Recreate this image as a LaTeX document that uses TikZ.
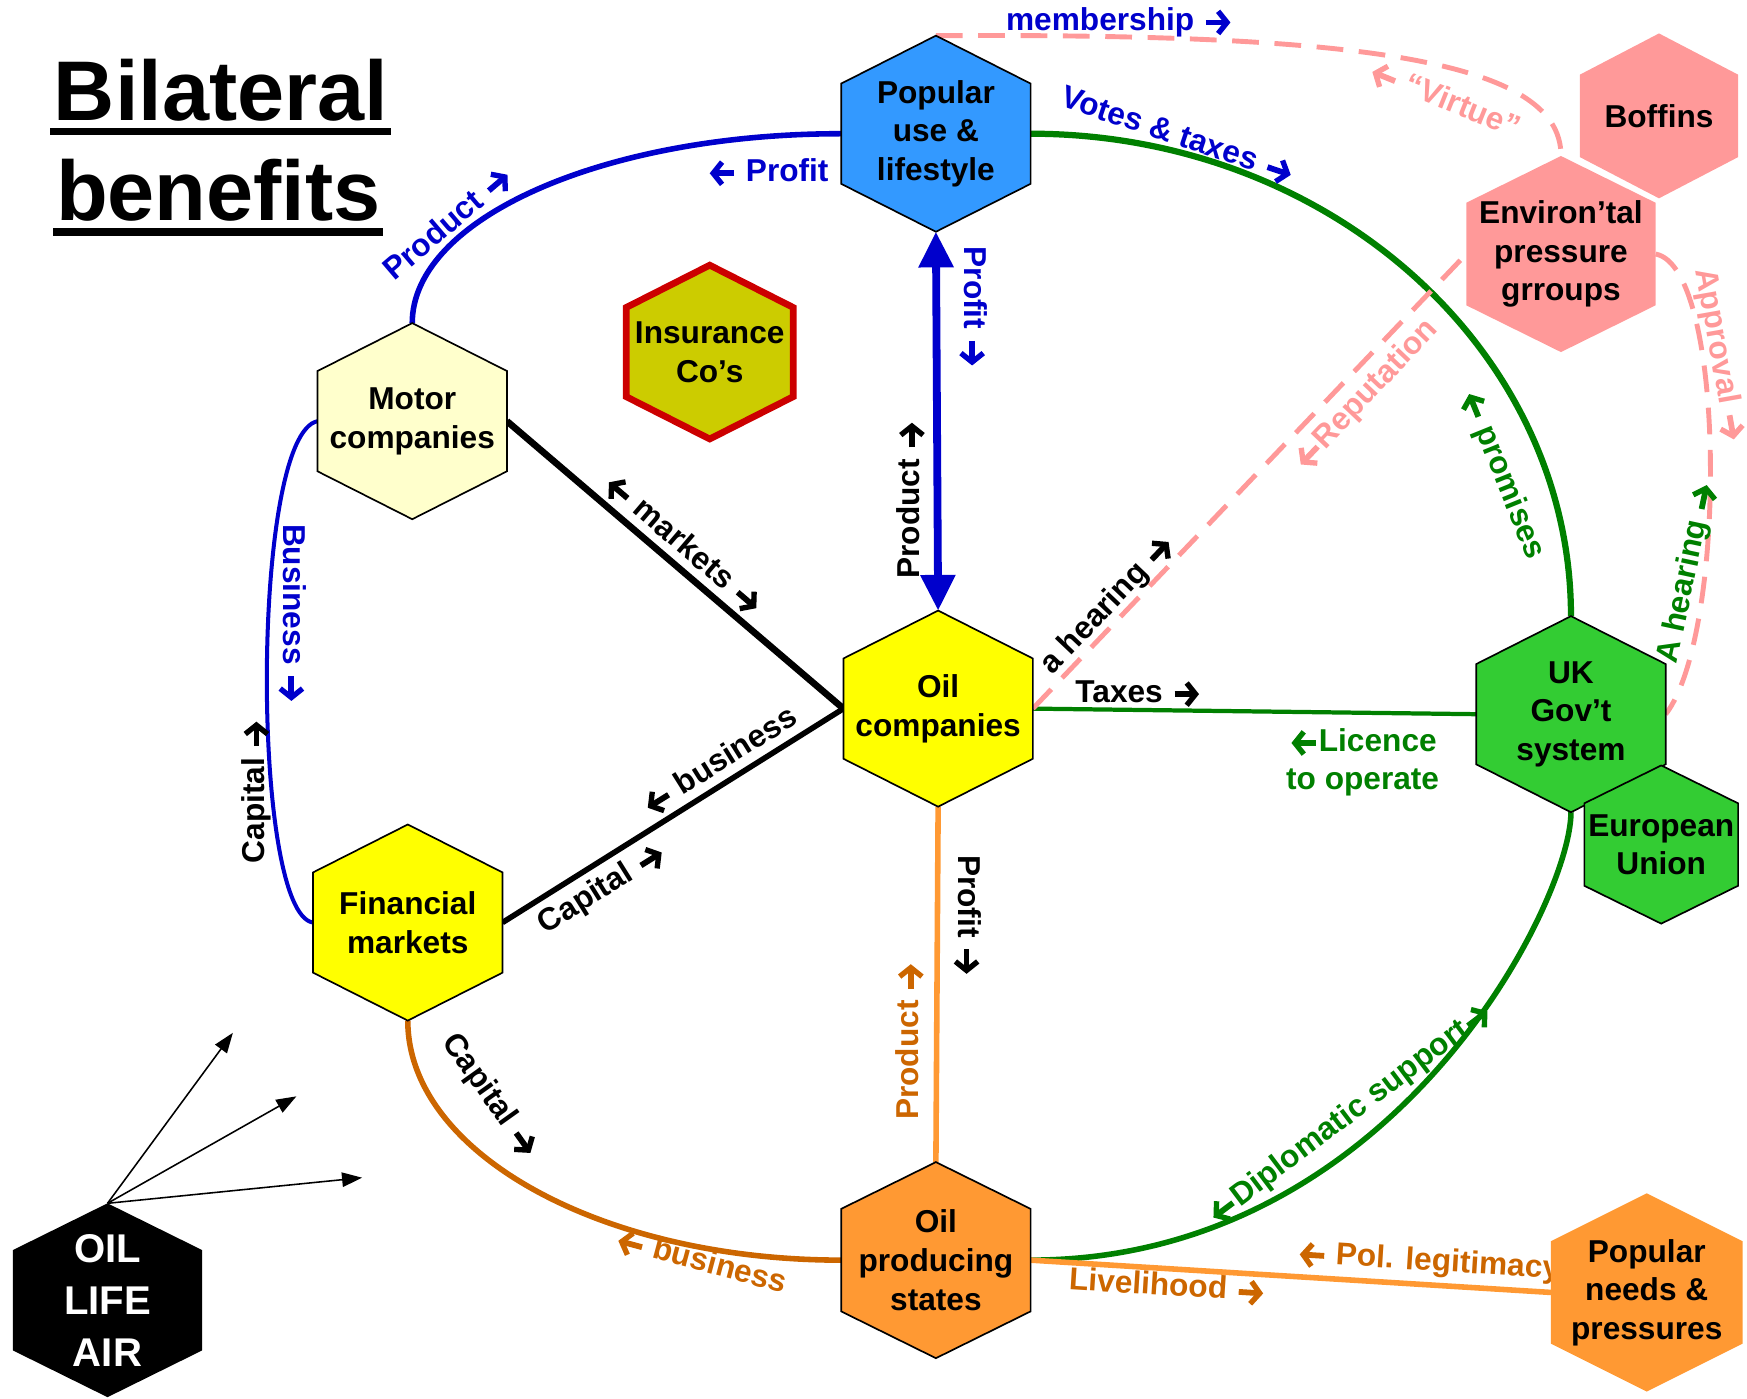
\documentclass[tikz,border=0pt]{standalone}
\usepackage{fontspec}
\setmainfont{Liberation Sans}
\usetikzlibrary{arrows.meta}
\pgfdeclarelayer{bg}
\pgfsetlayers{bg,main}
\definecolor{cblue}{HTML}{0000CC}
\definecolor{cpopfill}{HTML}{3399FF}
\definecolor{cmotor}{HTML}{FFFFCC}
\definecolor{cins}{HTML}{CCCC00}
\definecolor{cred}{HTML}{CC0000}
\definecolor{cyel}{HTML}{FFFF00}
\definecolor{cgreenf}{HTML}{33CC33}
\definecolor{cgreenl}{HTML}{008000}
\definecolor{cpink}{HTML}{FF9999}
\definecolor{corange}{HTML}{FF9933}
\definecolor{cdorange}{HTML}{CC6600}
\tikzset{glypharrow/.style={x=1pt, y=1pt, baseline=-3.6pt, line width=2.6pt}}
\newcommand\ra{\tikz[glypharrow]{\draw[line width=2.6pt, line cap=butt, -{Straight Barb[length=4pt,width=10pt,line width=2.4pt]}] (0,0) -- (11,0);}}
\newcommand\la{\tikz[glypharrow]{\draw[line width=2.6pt, line cap=butt, -{Straight Barb[length=4pt,width=10pt,line width=2.4pt]}] (11,0) -- (0,0);}}
% name, cx, cy, half width, side half height, tip, style, text
\newcommand\hexa[8]{%
  \path[#7] (#2,#3-#6) coordinate (#1-n) -- (#2+#4,#3-#5) -- (#2+#4,#3+#5)
    -- (#2,#3+#6) coordinate (#1-s) -- (#2-#4,#3+#5) -- (#2-#4,#3-#5) -- cycle;
  \coordinate (#1-e) at (#2+#4,#3);
  \coordinate (#1-w) at (#2-#4,#3);
  \node[hextext] (#1) at (#2,#3) {#8};}
\begin{document}
\begin{tikzpicture}[x=0.5pt,y=-0.5pt,
  hexline/.style={draw=black, line width=0.75pt},
  hextext/.style={font=\bfseries\fontsize{14.2}{17.3}\selectfont, align=center, inner sep=0pt},
  lab/.style={font=\bfseries\fontsize{14.2}{17.3}\selectfont, inner sep=0pt, align=center},
  flow/.style={line width=2.5pt},
  pinkdash/.style={draw=cpink, line width=2.2pt, dash pattern=on 12pt off 7pt},
  thinarrow/.style={line width=0.7pt, -{Triangle[length=9pt,width=6.5pt]}}]
\useasboundingbox (0,0) rectangle (1568,1255);

% title
\node[font=\bfseries\fontsize{38}{44}\selectfont, anchor=base west, inner sep=0pt] (t1) at (48,108) {Bilateral};
\node[font=\bfseries\fontsize{38}{44}\selectfont, anchor=base west, inner sep=0pt] (t2) at (50,198) {benefits};
\draw[line width=3.5pt] ([xshift=-1.5pt,yshift=-5pt]t1.base west) -- ([xshift=1pt,yshift=-5pt]t1.base east);
\draw[line width=3.5pt] ([xshift=-1pt,yshift=-5pt]t2.base west) -- ([xshift=1pt,yshift=-5pt]t2.base east);

% hexagons
\hexa{pop}{840}{120}{85}{45}{88}{hexline, fill=cpopfill}{Popular\\use \&\\lifestyle}
\hexa{motor}{370}{378}{85}{45}{88}{hexline, fill=cmotor}{Motor\\companies}
\hexa{ins}{637}{316}{75}{40}{78}{draw=cred, line width=3pt, fill=cins}{Insurance\\Co’s}
\hexa{oilc}{842}{636}{85}{45}{88}{hexline, fill=cyel}{Oil\\companies}
\hexa{fin}{366}{828}{85}{45}{88}{hexline, fill=cyel}{Financial\\markets}
\hexa{uk}{1410}{641}{85}{45}{88}{hexline, fill=cgreenf}{UK\\Gov’t\\system}
\hexa{eu}{1491}{758}{69}{37}{71}{hexline, fill=cgreenf}{European\\Union}
\hexa{bof}{1489}{104}{71}{37}{74}{fill=cpink}{Boffins}
\hexa{env}{1401}{228}{85}{46}{88}{fill=cpink}{Environ’tal\\pressure\\grroups}
\hexa{ops}{840}{1131}{85}{46}{88}{hexline, fill=corange}{Oil\\producing\\states}
\hexa{needs}{1478}{1160}{86}{46}{89}{fill=corange}{Popular\\needs \&\\pressures}
\hexa{oil}{96.5}{1167}{85}{45}{87}{fill=black}{}
\node[font=\bfseries\fontsize{18}{23.3}\selectfont, align=center, text=white, inner sep=0pt] (oiltext) at (oil) {OIL\\LIFE\\AIR};

\begin{pgfonlayer}{bg}
% connectors
\draw[flow, draw=cblue] (motor-n) .. controls (370,196) and (542,120) .. (pop-w);
\draw[line width=2.8pt, draw=cgreenl] (pop-e) .. controls (1193,120) and (1410,314) .. (uk-n);
\draw[draw=cblue, line width=3.5pt, {Triangle[length=16pt,width=15pt]}-{Triangle[length=16pt,width=15pt]}] (pop-s) -- (oilc-n);
\draw[line width=3pt] (motor-e) -- (oilc-w);
\draw[line width=2.5pt] (fin-e) -- (oilc-w);
\draw[line width=1.8pt, draw=cblue] (motor-w) .. controls (225,390) and (225,820) .. (fin-w);
\draw[flow, draw=cdorange] (fin-s) .. controls (366,1035) and (540,1131) .. (ops-w);
\draw[flow, draw=corange] (oilc-s) -- (ops-n);
\draw[flow, draw=cgreenl] (ops-e) .. controls (1251,1131) and (1410,809) .. (uk-s);
\draw[line width=1.9pt, draw=cgreenl] (oilc-e) -- (uk-w);
\draw[pinkdash] (oilc-e) -- (env-w);
\draw[pinkdash] (pop-n) .. controls (1200,30) and (1402,50) .. (env-n);
\draw[pinkdash] (env-e) .. controls (1550,240) and (1550,570) .. (uk-e);
\draw[flow, draw=corange] (ops-e) -- (needs-w);

% arrows from OIL LIFE AIR
\coordinate (a1) at (209,927);
\coordinate (a2) at (266,984);
\coordinate (a3) at (325,1057);
\draw[thinarrow] (oil-n) -- (a1);
\draw[thinarrow] (oil-n) -- (a2);
\draw[thinarrow] (oil-n) -- (a3);

% labels
\node[lab, text=cblue, rotate=40.5] (l1) at (403,201) {Product \ra};
\node[lab, text=cblue] (l2) at (689,155) {\la{} Profit};
\node[lab, text=cblue, rotate=-18.5] (l3) at (1057,123) {Votes \& taxes \ra};
\node[lab, text=cblue] (l4) at (1005,20) {membership \ra};
\node[lab, text=cpink, rotate=-22] (l5) at (1296,90) {\la{} “Virtue”};
\node[lab, text=cblue, rotate=-90] (l6) at (873,276) {Profit \ra};
\node[lab, rotate=90] (l7) at (818,448) {Product \ra};
\node[lab, rotate=-40.5] (l8) at (613,489) {\la{} markets \ra};
\node[lab, rotate=32] (l9) at (646,684) {\la{} business};
\node[lab, rotate=32] (l10) at (541,798) {Capital \ra};
\node[lab, text=cblue, rotate=-90] (l11) at (262,551) {Business \ra};
\node[lab, rotate=90] (l12) at (230,710) {Capital \ra};
\node[lab, rotate=-54.5] (l13) at (440,984) {Capital \ra};
\node[lab, text=cdorange, rotate=-15] (l14) at (629,1133) {\la{} business};
\node[lab, text=cdorange, rotate=90] (l15) at (817,934) {Product \ra};
\node[lab, rotate=-90] (l16) at (868,822) {Profit \ra};
\node[lab, text=cgreenl, rotate=37] (l17) at (1212,1000) {\la{}Diplomatic support\ra};
\node[lab] (l18) at (1022,623) {Taxes \ra};
\node[lab, text=cgreenl] (l19) at (1223,684) {\la{}Licence\\to operate};
\node[lab, rotate=46.5] (l20) at (995,543) {a hearing \ra};
\node[lab, text=cpink, rotate=46.5] (l21) at (1226,355) {\la{}Reputation};
\node[lab, text=cgreenl, rotate=-68] (l22) at (1348,426) {\la{} promises};
\node[lab, text=cpink, rotate=-80] (l23) at (1543,319) {Approval \ra};
\node[lab, text=cgreenl, rotate=78] (l24) at (1515,514) {A hearing \ra};
\node[lab, text=cdorange, rotate=-3.6] (l25) at (1282,1133) {\la{} Pol. legitimacy};
\node[lab, text=cdorange, rotate=-3.6] (l26) at (1048,1155) {Livelihood \ra};
\end{pgfonlayer}
\end{tikzpicture}
\end{document}
